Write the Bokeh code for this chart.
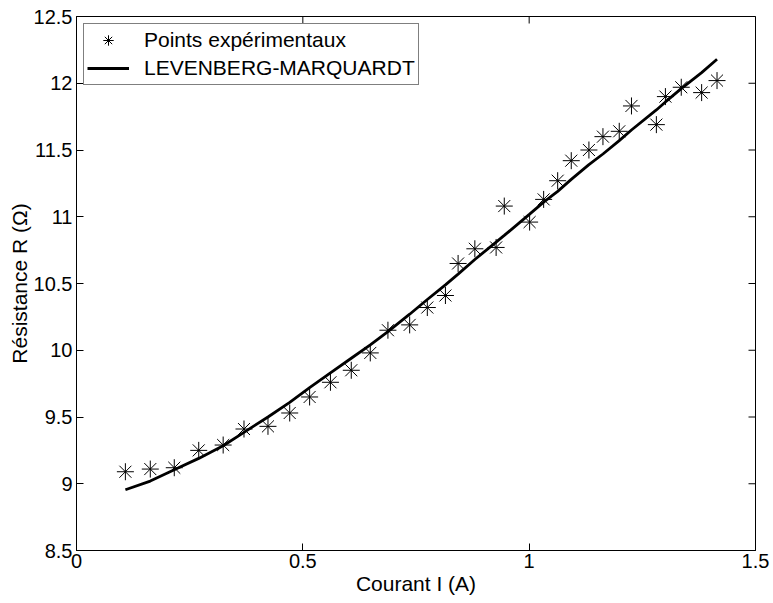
import math
from bokeh.plotting import figure
from bokeh.models import FixedTicker, Legend, LegendItem, Range1d
from bokeh.embed import file_html
from bokeh.resources import INLINE

courant = [0.108, 0.163, 0.216, 0.270, 0.324, 0.370, 0.423, 0.471, 0.515, 0.561, 0.607,
           0.649, 0.688, 0.736, 0.775, 0.815, 0.843, 0.880, 0.927, 0.945, 1.001, 1.032,
           1.063, 1.093, 1.132, 1.163, 1.199, 1.226, 1.281, 1.301, 1.336, 1.381, 1.415]
resistance = [9.09, 9.11, 9.12, 9.25, 9.29, 9.41, 9.43, 9.53, 9.65, 9.76, 9.85,
              9.98, 10.15, 10.19, 10.32, 10.41, 10.65, 10.76, 10.77, 11.08, 10.96, 11.13,
              11.27, 11.42, 11.50, 11.60, 11.64, 11.83, 11.69, 11.90, 11.97, 11.93, 12.02]
fit_lm = [8.955, 9.02, 9.105, 9.19, 9.285, 9.385, 9.50, 9.61, 9.72, 9.83, 9.94,
          10.04, 10.14, 10.27, 10.38, 10.49, 10.57, 10.68, 10.81, 10.86, 11.02, 11.11,
          11.19, 11.28, 11.39, 11.47, 11.57, 11.65, 11.80, 11.86, 11.96, 12.08, 12.18]

x_ticks = [0, 0.5, 1, 1.5]
x_tick_labels = ["0", "0.5", "1", "1.5"]
y_ticks = [8.5, 9, 9.5, 10, 10.5, 11, 11.5, 12, 12.5]
y_tick_labels = ["8.5", "9", "9.5", "10", "10.5", "11", "11.5", "12", "12.5"]
x_min, x_max = 0, 1.5
y_min, y_max = 8.5, 12.5

FONT = "Liberation Sans"
TICK_IN = 7

p = figure(width=770, height=603, output_backend="svg", toolbar_location=None,
           x_range=Range1d(x_min, x_max), y_range=Range1d(y_min, y_max),
           min_border_left=76, min_border_right=15, min_border_top=16, min_border_bottom=53,
           x_axis_label="Courant I (A)", y_axis_label="Résistance R (Ω)")
p.xgrid.visible = False
p.ygrid.visible = False
p.outline_line_color = "black"
p.outline_line_width = 1
p.background_fill_color = "white"
p.border_fill_color = "white"

for ax, ticks, labels in ((p.xaxis[0], x_ticks, x_tick_labels), (p.yaxis[0], y_ticks, y_tick_labels)):
    ax.ticker = FixedTicker(ticks=ticks)
    ax.major_label_overrides = {t: l for t, l in zip(ticks, labels)}
    ax.major_tick_in = TICK_IN
    ax.major_tick_out = 0
    ax.minor_tick_in = 0
    ax.minor_tick_out = 0
    ax.axis_line_color = "black"
    ax.major_tick_line_color = "black"
    ax.major_label_text_font = FONT
    ax.major_label_text_font_size = "20px"
    ax.major_label_text_color = "black"
    ax.axis_label_text_font = FONT
    ax.axis_label_text_font_size = "21px"
    ax.axis_label_text_font_style = "normal"
    ax.axis_label_text_color = "black"
p.xaxis[0].major_label_standoff = 3
p.xaxis[0].axis_label_standoff = 1
p.yaxis[0].major_label_standoff = 4
p.yaxis[0].axis_label_standoff = 0

# inward ticks on the top and right edges of the box (clipped to the frame)
p.scatter(x_ticks, [y_max] * len(x_ticks), marker="dash", angle=math.pi / 2,
          size=2 * TICK_IN, line_color="black", line_width=1)
p.scatter([x_max] * len(y_ticks), y_ticks, marker="dash",
          size=2 * TICK_IN, line_color="black", line_width=1)

pts = p.scatter(courant, resistance, marker="asterisk", size=17, line_color="black", line_width=1)
ln = p.line(courant, fit_lm, line_color="black", line_width=2.8)

legend = Legend(items=[LegendItem(label="Points expérimentaux", renderers=[pts]),
                       LegendItem(label="LEVENBERG-MARQUARDT", renderers=[ln])],
                location="top_left", margin=7, padding=3, spacing=2,
                label_text_font=FONT, label_text_font_size="21px", label_text_color="black",
                glyph_width=42, glyph_height=26, label_height=26, label_standoff=15,
                border_line_color="black", border_line_width=1,
                background_fill_alpha=1.0)
p.add_layout(legend)

open("out.html", "w").write(file_html(p, INLINE))
